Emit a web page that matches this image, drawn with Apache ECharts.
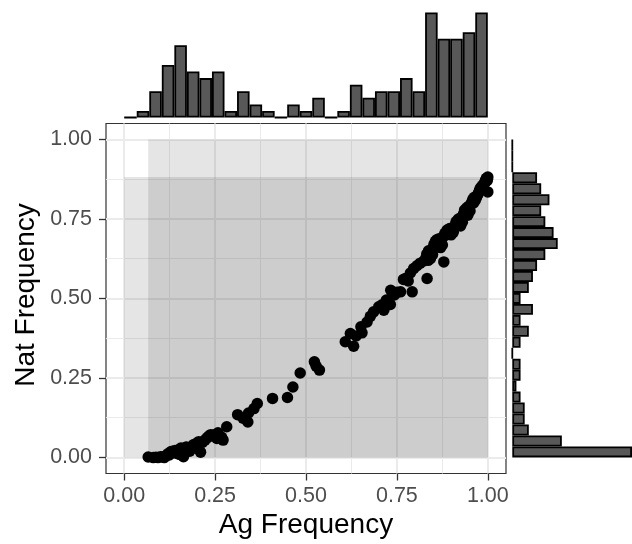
<!DOCTYPE html>
<html>
<head>
<meta charset="utf-8">
<script src="https://cdn.jsdelivr.net/npm/echarts@6/dist/echarts.min.js"></script>
<style>
html,body{margin:0;padding:0;background:#fff;}
#chart{width:632px;height:544px;}
</style>
</head>
<body>
<div id="chart"></div>
<script>
// ---- data ----
const agFreq = [
  0.066,
  0.080, 0.087, 0.093, 0.100,
  0.107, 0.110, 0.115, 0.120, 0.124, 0.128, 0.132, 0.136,
  0.140, 0.143, 0.147, 0.150, 0.153, 0.156, 0.160, 0.163, 0.166, 0.169, 0.171,
  0.175, 0.180, 0.185, 0.190, 0.195, 0.199, 0.205,
  0.210, 0.215, 0.222, 0.228, 0.233, 0.238,
  0.244, 0.248, 0.255, 0.258, 0.264, 0.268, 0.272,
  0.282,
  0.312, 0.327, 0.340, 0.342,
  0.357, 0.366,
  0.408,
  0.449, 0.464,
  0.484,
  0.523, 0.528, 0.537,
  0.608,
  0.622, 0.631, 0.638, 0.651, 0.654,
  0.668, 0.677, 0.686,
  0.700, 0.709, 0.714, 0.721,
  0.732, 0.733, 0.743, 0.751,
  0.760, 0.768, 0.773, 0.781, 0.787, 0.792,
  0.796, 0.805, 0.814, 0.824,
  0.833, 0.836, 0.830, 0.832, 0.835, 0.837, 0.839, 0.842, 0.845, 0.848, 0.850, 0.852, 0.854, 0.856, 0.858, 0.860,
  0.879, 0.863, 0.866, 0.870, 0.872, 0.875, 0.878, 0.882, 0.885, 0.888, 0.892, 0.895,
  0.899, 0.902, 0.905, 0.908, 0.910, 0.913, 0.916, 0.919, 0.922, 0.925, 0.928, 0.930,
  0.933, 0.936, 0.939, 0.942, 0.945, 0.948, 0.951, 0.954, 0.957, 0.959, 0.961, 0.963, 0.965,
  0.968, 0.970, 0.972, 0.975, 0.977, 0.980, 1.000, 0.985, 0.988, 0.990, 0.992, 0.994, 0.996, 0.998, 1.000, 0.999
];
const natFreq = [
  0.002,
  0.000, 0.001, 0.000, 0.003,
  0.003, 0.000, 0.005, 0.012, 0.008, 0.018, 0.020, 0.015,
  0.022, 0.018, 0.012, 0.025, 0.010, 0.030, 0.008, 0.003, 0.028, 0.032, 0.033,
  0.030, 0.020, 0.028, 0.040, 0.032, 0.045, 0.050,
  0.017, 0.048, 0.055, 0.062, 0.068, 0.072,
  0.068, 0.072, 0.060, 0.078, 0.066, 0.064, 0.055,
  0.097,
  0.135, 0.124, 0.112, 0.140,
  0.154, 0.170,
  0.186,
  0.189, 0.222,
  0.266,
  0.301, 0.287, 0.275,
  0.364,
  0.390, 0.350, 0.382, 0.411, 0.392,
  0.426, 0.444, 0.458,
  0.474, 0.480, 0.463, 0.495,
  0.481, 0.526, 0.511, 0.520,
  0.521, 0.560, 0.563, 0.555, 0.580, 0.521,
  0.594, 0.603, 0.611, 0.618,
  0.563, 0.620, 0.628, 0.640, 0.633, 0.650, 0.645, 0.625, 0.652, 0.638, 0.660, 0.670, 0.665, 0.680, 0.672, 0.685,
  0.615, 0.675, 0.688, 0.660, 0.682, 0.668, 0.695, 0.705, 0.700, 0.715, 0.710, 0.720,
  0.700, 0.718, 0.708, 0.722, 0.730, 0.742, 0.735, 0.750, 0.745, 0.728, 0.755, 0.740,
  0.765, 0.778, 0.770, 0.785, 0.762, 0.790, 0.775, 0.798, 0.805, 0.812, 0.800, 0.818, 0.808,
  0.815, 0.822, 0.826, 0.832, 0.840, 0.848, 0.835, 0.855, 0.845, 0.860, 0.866, 0.872, 0.878, 0.870, 0.882, 0.875
];
// marginal histogram counts (29 bins from 0 to 1)
const agHistCounts = [0,1,4,8,11,7,6,7,1,4,2,1,0,2,1,3,0,1,5,3,4,4,6,4,16,12,12,13,16];
const natHistCounts = [29,12,4,3,3,2,1,2,2,0,2,4,2,5,2,4,5,6,8,11,10,8,7,9,7,6,0,0,0];
const binLabels = agHistCounts.map((_, i) => 'b' + i);
const tickValues = [0, 0.25, 0.5, 0.75, 1];
const xTitle = 'Ag Frequency';
const yTitle = 'Nat Frequency';

// ---- chart ----
const FONT = '"Liberation Sans", Arial, Helvetica, sans-serif';
const chart = echarts.init(document.getElementById('chart'), null, {renderer: 'canvas'});
const points = agFreq.map((a, i) => [a, natFreq[i]]);
const agMin = Math.min(...agFreq), agMax = Math.max(...agFreq);
const natMin = Math.min(...natFreq), natMax = Math.max(...natFreq);

const gridLine = {lineStyle: {color: '#ebebeb', width: 2}};
const minorLine = {show: true, lineStyle: {color: '#ebebeb', width: 1}};
const tickStyle = {show: true, length: 7, inside: false, lineStyle: {color: '#333333', width: 1.3}};
const labelStyle = {color: '#4d4d4d', fontSize: 21.5, fontFamily: FONT, formatter: v => v.toFixed(2)};

const option = {
  animation: false,
  backgroundColor: '#ffffff',
  grid: [
    {left: 106, top: 123.5, width: 400, height: 350, show: true, borderColor: '#333333', borderWidth: 1.2, backgroundColor: 'transparent', containLabel: false},
    {left: 124.2, top: 123.5, width: 363.6, height: 350, containLabel: false},
    {left: 106, top: 139.4, width: 400, height: 318, containLabel: false},
    {left: 124.2, top: 12.5, width: 363.6, height: 105, containLabel: false},
    {left: 512.3, top: 139.4, width: 120, height: 318, containLabel: false}
  ],
  xAxis: [
    {gridIndex: 0, type: 'value', min: -0.05, max: 1.05, show: false},
    {gridIndex: 1, type: 'value', min: 0, max: 1, interval: 0.25,
      axisLine: {show: false}, axisTick: tickStyle,
      axisLabel: Object.assign({margin: 12}, labelStyle),
      splitLine: gridLine, minorTick: {show: false, splitNumber: 2}, minorSplitLine: minorLine},
    {gridIndex: 2, type: 'value', min: 0, max: 1, show: false},
    {gridIndex: 3, type: 'category', data: binLabels, boundaryGap: true, show: false},
    {gridIndex: 4, type: 'value', min: 0, max: 29, show: false}
  ],
  yAxis: [
    {gridIndex: 0, type: 'value', min: -0.05, max: 1.05, show: false},
    {gridIndex: 1, type: 'value', min: 0, max: 1, show: false},
    {gridIndex: 2, type: 'value', min: 0, max: 1, interval: 0.25,
      axisLine: {show: false}, axisTick: tickStyle,
      axisLabel: Object.assign({margin: 14}, labelStyle),
      splitLine: gridLine, minorTick: {show: false, splitNumber: 2}, minorSplitLine: minorLine},
    {gridIndex: 3, type: 'value', min: 0, max: 16, show: false},
    {gridIndex: 4, type: 'category', data: binLabels, boundaryGap: true, show: false}
  ],
  series: [
    {
      type: 'scatter', xAxisIndex: 0, yAxisIndex: 0, data: points,
      symbol: 'circle', symbolSize: 11.5, itemStyle: {color: '#000000', opacity: 1},
      z: 3, silent: true,
      markArea: {
        silent: true, z: 1,
        itemStyle: {color: 'rgba(0,0,0,0.1)', borderWidth: 0},
        data: [
          [{coord: [0, natMin]}, {coord: [1, natMax]}],
          [{coord: [agMin, 0]}, {coord: [agMax, 1]}]
        ]
      }
    },
    {
      type: 'bar', xAxisIndex: 3, yAxisIndex: 3, data: agHistCounts,
      barCategoryGap: '0%', silent: true,
      itemStyle: {color: '#585858', borderColor: '#000000', borderWidth: 1.8}
    },
    {
      type: 'bar', xAxisIndex: 4, yAxisIndex: 4, data: natHistCounts,
      barCategoryGap: '0%', silent: true,
      itemStyle: {color: '#585858', borderColor: '#000000', borderWidth: 1.8}
    }
  ],
  graphic: [
    {type: 'text', x: 306, y: 525, silent: true,
      style: {text: xTitle, fill: '#000000', font: '28px ' + FONT, textAlign: 'center', textVerticalAlign: 'middle'}},
    {type: 'text', x: 26, y: 295, rotation: Math.PI / 2, silent: true,
      style: {text: yTitle, fill: '#000000', font: '28px ' + FONT, textAlign: 'center', textVerticalAlign: 'middle'}}
  ]
};
chart.setOption(option);
</script>
</body>
</html>
